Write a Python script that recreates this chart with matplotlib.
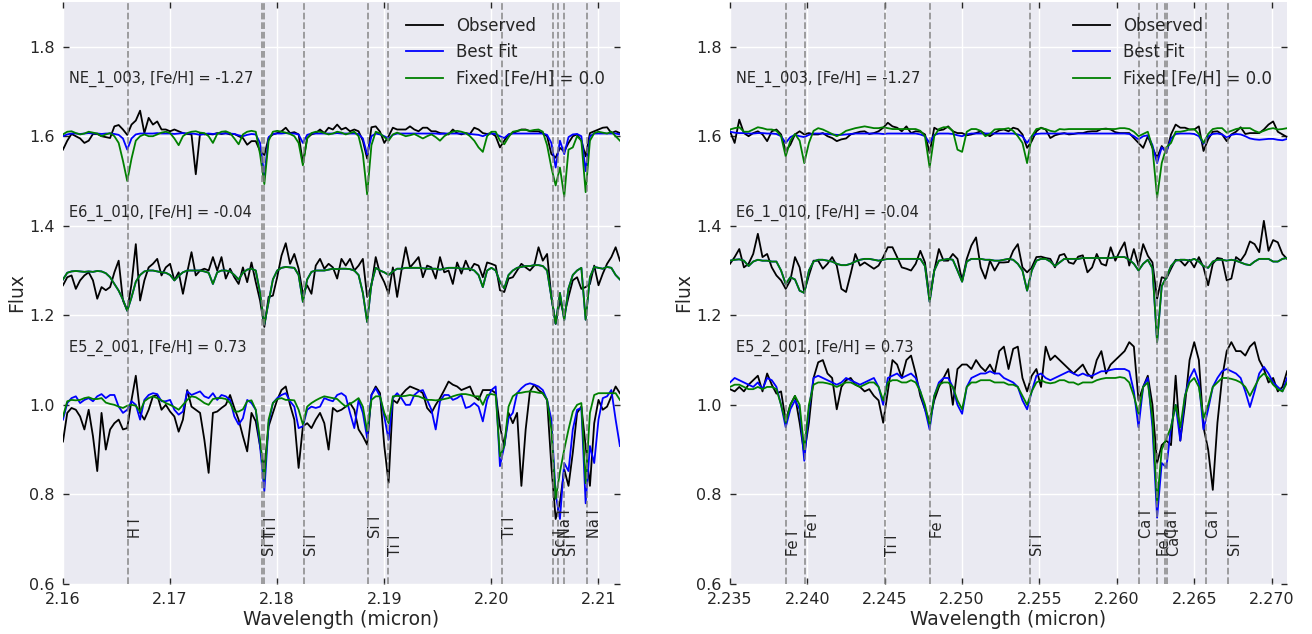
import matplotlib.pyplot as plt
import numpy as np

# Wavelength sampling of the two spectral windows (micron)
wave_left = np.linspace(2.160, 2.212, 131)
wave_right = np.linspace(2.235, 2.271, 121)

star_names = ["NE_1_003", "E6_1_010", "E5_2_001"]
star_feh = [-1.27, -0.04, 0.73]

# ---- left window, normalised flux ----
ne_obs_l = [
    0.970, 0.990, 1.005, 1.000, 0.995, 0.985, 0.990, 1.005, 1.005, 1.000,
    0.998, 0.996, 1.022, 1.025, 1.015, 1.003, 1.026, 1.035, 1.057, 1.007,
    1.041, 1.026, 1.033, 1.015, 1.015, 1.011, 1.015, 1.011, 1.007, 1.005,
    1.004, 0.915, 1.007, 1.004, 1.005, 1.004, 1.007, 1.005, 1.007, 1.004,
    1.005, 1.000, 0.996, 0.981, 0.989, 0.989, 0.967, 0.958, 0.996, 1.004,
    1.007, 1.011, 1.019, 1.007, 1.009, 1.004, 0.940, 0.996, 1.004, 1.007,
    1.015, 1.007, 1.019, 1.015, 1.026, 1.015, 1.019, 1.011, 1.015, 1.011,
    0.990, 0.950, 1.020, 1.022, 1.010, 0.985, 1.000, 1.019, 1.015, 1.015,
    1.015, 1.022, 1.015, 1.011, 1.019, 1.019, 1.011, 1.011, 1.007, 1.006,
    1.004, 1.015, 1.007, 1.004, 1.007, 1.005, 1.019, 1.015, 1.007, 1.005,
    1.007, 1.000, 0.975, 0.990, 1.004, 1.007, 1.011, 1.015, 1.015, 1.011,
    1.011, 1.011, 1.006, 1.000, 0.960, 0.952, 0.974, 0.966, 0.985, 1.000,
    1.004, 0.990, 0.955, 1.007, 1.011, 1.015, 1.019, 1.020, 1.007, 1.011, 1.007,
]
ne_best_l = [
    1.000, 1.004, 1.006, 1.006, 1.005, 1.006, 1.007, 1.006, 1.006, 1.005,
    1.006, 1.006, 1.005, 1.003, 0.995, 0.970, 0.995, 1.004, 1.006, 1.006,
    1.006, 1.006, 1.007, 1.006, 1.006, 1.006, 1.005, 1.006, 1.007, 1.006,
    1.006, 1.005, 1.003, 1.005, 1.006, 1.005, 1.006, 1.006, 1.006, 1.006,
    1.005, 1.002, 1.000, 1.003, 1.005, 1.004, 0.985, 0.912, 0.998, 1.005,
    1.006, 1.006, 1.007, 1.006, 1.006, 1.004, 0.985, 1.003, 1.006, 1.006,
    1.006, 1.006, 1.006, 1.006, 1.007, 1.006, 1.006, 1.006, 1.006, 1.005,
    0.995, 0.959, 1.000, 1.006, 1.004, 1.000, 0.995, 1.003, 1.006, 1.006,
    1.006, 1.006, 1.006, 1.006, 1.006, 1.006, 1.006, 1.006, 1.005, 1.006,
    1.006, 1.006, 1.006, 1.006, 1.006, 1.005, 1.004, 1.003, 1.000, 1.004,
    1.006, 1.005, 1.000, 0.996, 1.004, 1.006, 1.006, 1.006, 1.006, 1.006,
    1.006, 1.006, 1.006, 1.003, 0.985, 0.930, 0.990, 0.960, 0.998, 1.004,
    1.005, 1.000, 0.922, 1.000, 1.006, 1.006, 1.006, 1.006, 1.006, 1.006, 1.004,
]
ne_fix_l = [
    1.004, 1.010, 1.011, 1.007, 1.004, 1.006, 1.010, 1.008, 1.006, 1.000,
    1.004, 1.007, 1.000, 0.985, 0.945, 0.900, 0.950, 0.990, 1.000, 1.004,
    1.000, 1.000, 1.004, 1.008, 1.010, 1.007, 0.995, 0.980, 1.000, 1.007,
    1.010, 1.011, 1.008, 1.007, 1.000, 0.985, 1.005, 1.010, 1.011, 1.007,
    0.995, 0.982, 1.004, 1.010, 1.012, 1.010, 0.960, 0.893, 0.990, 1.010,
    1.012, 1.010, 1.008, 1.005, 1.000, 0.985, 0.935, 0.995, 1.007, 1.010,
    1.010, 1.007, 1.004, 1.006, 1.010, 1.008, 1.004, 1.007, 1.010, 1.000,
    0.960, 0.870, 0.980, 1.010, 1.006, 0.998, 0.990, 1.004, 1.008, 1.004,
    1.000, 1.002, 1.005, 1.000, 0.995, 1.000, 1.004, 0.998, 0.990, 1.000,
    1.006, 1.010, 1.012, 1.010, 1.007, 1.000, 0.990, 0.975, 0.965, 1.000,
    1.010, 1.010, 0.990, 0.982, 0.998, 1.010, 1.012, 1.014, 1.014, 1.012,
    1.014, 1.015, 1.010, 0.980, 0.930, 0.890, 0.930, 0.865, 0.970, 0.975,
    1.000, 0.990, 0.875, 0.990, 1.007, 1.010, 1.008, 1.006, 1.010, 1.000, 0.990,
]
e6_obs_l = [
    0.967, 0.985, 0.989, 0.959, 0.978, 0.989, 0.996, 0.978, 0.937, 0.963,
    0.956, 0.963, 0.996, 1.022, 0.933, 0.911, 0.970, 1.059, 0.933, 0.978,
    1.007, 1.015, 1.026, 0.989, 1.007, 1.015, 0.978, 0.996, 0.948, 0.996,
    1.041, 0.989, 1.000, 1.004, 1.000, 1.030, 1.000, 1.030, 0.982, 1.004,
    0.985, 0.970, 1.007, 0.974, 1.018, 0.974, 0.933, 0.874, 0.941, 0.944,
    0.985, 1.033, 1.061, 1.015, 1.037, 1.004, 0.948, 0.967, 0.948, 1.011,
    1.026, 1.004, 1.015, 1.007, 0.982, 1.026, 1.011, 1.026, 1.000, 1.011,
    1.026, 0.941, 0.967, 1.030, 0.993, 0.974, 0.948, 1.007, 0.941, 1.000,
    1.052, 1.007, 1.018, 1.030, 0.985, 1.011, 1.007, 0.982, 1.030, 0.996,
    1.000, 0.970, 1.018, 0.993, 1.022, 1.000, 1.015, 1.011, 0.985, 1.018,
    1.015, 1.011, 0.956, 0.952, 0.982, 0.985, 1.000, 1.015, 1.007, 1.000,
    1.011, 1.052, 1.022, 1.037, 0.941, 0.881, 0.933, 0.900, 0.941, 0.978,
    0.985, 0.959, 0.963, 0.970, 1.011, 0.967, 0.993, 1.015, 1.030, 1.052, 1.022,
]
# best fit and fixed-metallicity model coincide for this star
e6_model_l = [
    0.980, 0.995, 0.998, 0.999, 0.998, 0.997, 0.998, 0.997, 0.999, 0.998,
    0.994, 0.985, 0.970, 0.955, 0.935, 0.910, 0.940, 0.975, 0.990, 0.998,
    1.000, 1.000, 0.998, 0.996, 0.995, 0.990, 0.978, 0.988, 0.996, 1.000,
    1.000, 1.000, 1.000, 0.998, 0.995, 0.970, 0.996, 1.000, 1.000, 0.998,
    0.990, 0.980, 0.995, 1.002, 1.004, 1.000, 0.950, 0.880, 0.930, 0.980,
    1.000, 1.006, 1.008, 1.007, 1.006, 0.990, 0.930, 0.980, 0.997, 1.000,
    1.000, 1.000, 1.002, 1.004, 1.003, 1.004, 1.004, 1.003, 1.000, 0.990,
    0.950, 0.885, 0.970, 1.006, 1.000, 0.996, 0.990, 0.998, 1.004, 1.004,
    1.006, 1.006, 1.006, 1.006, 1.005, 1.004, 1.004, 1.004, 1.002, 1.004,
    1.006, 1.006, 1.006, 1.004, 1.004, 1.004, 1.000, 0.990, 0.963, 1.000,
    1.006, 1.000, 0.975, 0.960, 0.990, 1.000, 1.006, 1.008, 1.010, 1.010,
    1.012, 1.012, 1.010, 1.000, 0.940, 0.881, 0.950, 0.889, 0.960, 0.990,
    1.000, 1.006, 0.890, 0.985, 1.008, 1.006, 1.004, 1.008, 1.006, 0.990, 0.980,
]
e5_obs_l = [
    0.918, 0.982, 0.993, 0.989, 0.974, 0.945, 0.989, 0.930, 0.852, 0.982,
    0.900, 0.945, 0.959, 0.967, 0.945, 0.948, 1.011, 1.065, 0.982, 0.967,
    0.989, 1.019, 1.022, 0.989, 1.000, 0.985, 0.974, 0.940, 0.967, 1.033,
    0.996, 0.989, 0.982, 0.922, 0.848, 0.982, 0.985, 0.993, 1.000, 1.022,
    0.993, 0.967, 0.930, 0.896, 0.982, 0.963, 0.908, 0.856, 0.952, 0.982,
    1.011, 1.033, 1.041, 1.000, 0.967, 0.859, 0.952, 0.959, 0.948, 0.967,
    0.982, 0.959, 0.900, 0.993, 0.985, 0.989, 0.996, 1.004, 0.989, 0.945,
    0.930, 0.911, 1.022, 1.041, 1.026, 0.908, 0.826, 1.011, 1.004, 1.022,
    1.033, 1.041, 1.037, 1.033, 1.026, 0.993, 0.982, 1.000, 1.015, 1.033,
    1.052, 1.045, 1.041, 1.033, 1.037, 1.041, 1.019, 1.011, 1.033, 1.033,
    1.033, 1.026, 0.952, 0.908, 0.982, 0.959, 0.982, 0.819, 0.945, 1.030,
    1.045, 1.033, 1.026, 1.011, 0.863, 0.745, 0.782, 0.856, 0.819, 0.893,
    0.982, 0.996, 0.908, 0.819, 0.959, 1.011, 0.989, 0.996, 1.019, 1.041, 1.026,
]
e5_best_l = [
    0.967, 1.004, 1.015, 1.019, 1.004, 1.011, 1.015, 1.008, 1.019, 1.024,
    1.015, 1.022, 1.022, 0.996, 0.982, 0.989, 1.008, 1.000, 0.967, 1.011,
    1.022, 1.026, 1.024, 1.008, 1.008, 1.011, 0.989, 0.978, 0.985, 1.030,
    1.022, 1.026, 1.030, 1.019, 1.015, 1.026, 1.011, 1.022, 1.019, 1.011,
    0.974, 0.956, 0.970, 1.011, 1.004, 0.989, 0.908, 0.807, 0.959, 1.004,
    1.015, 1.022, 1.026, 1.008, 0.996, 0.948, 0.952, 0.989, 0.996, 0.993,
    0.996, 1.015, 1.011, 1.008, 1.022, 1.026, 1.019, 0.982, 0.948, 1.011,
    0.982, 0.926, 1.022, 1.037, 1.019, 0.974, 0.922, 1.015, 1.026, 1.015,
    1.000, 1.000, 1.022, 1.030, 1.033, 1.011, 0.989, 0.945, 1.008, 1.022,
    1.022, 1.011, 1.015, 1.022, 0.993, 0.996, 1.004, 0.996, 0.963, 1.011,
    1.033, 1.041, 0.863, 0.908, 0.970, 0.982, 1.026, 1.037, 1.045, 1.048,
    1.045, 1.041, 1.033, 1.011, 0.967, 0.800, 0.745, 0.870, 0.852, 0.945,
    0.989, 0.993, 0.780, 0.908, 0.870, 0.967, 1.015, 1.019, 1.033, 0.967, 0.908,
]
e5_fix_l = [
    0.974, 1.008, 1.011, 1.010, 1.011, 1.015, 1.017, 1.013, 1.013, 1.015,
    1.005, 1.002, 1.000, 0.996, 0.993, 0.998, 1.000, 0.998, 0.985, 1.008,
    1.015, 1.019, 1.015, 1.010, 1.004, 1.000, 0.995, 0.989, 1.000, 1.011,
    1.019, 1.017, 1.011, 1.004, 1.000, 1.013, 1.015, 1.015, 1.013, 1.004,
    0.985, 0.985, 0.990, 1.008, 1.010, 0.989, 0.922, 0.833, 0.967, 1.004,
    1.013, 1.015, 1.011, 1.011, 1.010, 0.989, 0.956, 0.996, 1.004, 1.010,
    1.015, 1.019, 1.017, 1.015, 1.013, 1.004, 0.996, 1.002, 1.008, 1.015,
    0.996, 0.941, 1.011, 1.019, 1.019, 0.982, 0.959, 1.019, 1.020, 1.019,
    1.020, 1.022, 1.020, 1.019, 1.015, 1.011, 1.011, 1.010, 1.011, 1.013,
    1.015, 1.019, 1.022, 1.024, 1.024, 1.022, 1.019, 1.019, 1.000, 1.022,
    1.024, 1.022, 0.885, 0.908, 0.996, 1.019, 1.026, 1.027, 1.029, 1.030,
    1.029, 1.027, 1.026, 1.011, 0.945, 0.790, 0.850, 0.900, 0.945, 0.985,
    1.000, 1.004, 0.825, 0.982, 1.022, 1.026, 1.026, 1.026, 1.026, 1.026, 1.011,
]

# ---- right window, normalised flux ----
ne_obs_r = [
    1.011, 0.985, 1.037, 1.007, 1.000, 1.007, 1.011, 1.004, 0.989, 1.011,
    1.015, 1.004, 0.967, 0.981, 1.004, 1.011, 1.004, 1.007, 1.004, 1.004,
    1.007, 1.000, 0.996, 0.989, 0.993, 0.995, 1.004, 1.007, 1.010, 1.011,
    1.005, 1.007, 1.011, 1.019, 1.030, 1.022, 1.019, 1.011, 1.022, 1.007,
    1.011, 1.010, 1.004, 0.963, 1.019, 1.013, 1.015, 1.022, 1.011, 1.007,
    1.007, 1.002, 1.004, 1.007, 1.011, 1.005, 1.000, 1.007, 1.013, 1.015,
    1.011, 1.019, 1.016, 1.004, 0.974, 0.989, 1.011, 1.019, 1.015, 0.996,
    1.002, 1.005, 1.007, 1.004, 1.005, 1.007, 1.007, 1.010, 1.011, 1.011,
    1.016, 1.017, 1.015, 1.009, 1.007, 1.007, 1.007, 0.996, 0.985, 0.974,
    1.000, 0.974, 0.952, 0.978, 0.963, 1.004, 1.026, 1.019, 1.019, 1.015,
    1.015, 1.022, 0.967, 0.993, 1.010, 1.011, 1.004, 0.989, 1.004, 1.010,
    1.020, 1.005, 1.007, 1.007, 1.007, 1.015, 1.026, 1.033, 1.010, 1.004, 0.998,
]
ne_best_r = [
    1.010, 1.008, 1.007, 1.007, 1.006, 1.006, 1.007, 1.007, 1.006, 1.006,
    1.005, 1.000, 0.985, 0.998, 1.003, 1.000, 0.998, 1.003, 1.006, 1.006,
    1.006, 1.005, 1.004, 1.003, 1.003, 1.004, 1.005, 1.006, 1.006, 1.006,
    1.006, 1.006, 1.006, 1.005, 1.006, 1.006, 1.006, 1.006, 1.006, 1.006,
    1.006, 1.004, 1.000, 0.985, 1.003, 1.006, 1.006, 1.006, 1.005, 1.002,
    1.000, 1.004, 1.006, 1.006, 1.006, 1.006, 1.006, 1.006, 1.006, 1.006,
    1.006, 1.006, 1.004, 1.000, 0.985, 1.000, 1.005, 1.006, 1.006, 1.006,
    1.006, 1.006, 1.006, 1.006, 1.006, 1.006, 1.006, 1.006, 1.006, 1.006,
    1.006, 1.006, 1.006, 1.006, 1.006, 1.006, 1.005, 1.000, 0.993, 1.000,
    1.002, 0.980, 0.940, 0.975, 0.965, 0.995, 1.005, 1.006, 1.006, 1.006,
    1.005, 1.000, 0.983, 1.000, 1.005, 1.006, 1.004, 0.997, 1.003, 1.005,
    1.004, 1.000, 0.995, 0.993, 0.992, 0.993, 0.994, 0.994, 0.992, 0.991, 0.994,
]
ne_fix_r = [
    1.015, 1.018, 1.020, 1.010, 1.010, 1.015, 1.020, 1.018, 1.015, 1.015,
    1.012, 1.000, 0.955, 0.990, 1.005, 0.990, 0.940, 0.985, 1.012, 1.018,
    1.015, 1.010, 1.005, 1.000, 1.005, 1.012, 1.015, 1.018, 1.020, 1.022,
    1.020, 1.018, 1.018, 1.020, 1.018, 1.016, 1.016, 1.016, 1.016, 1.016,
    1.016, 1.012, 1.000, 0.930, 1.000, 1.016, 1.020, 1.020, 1.012, 0.970,
    0.965, 1.010, 1.016, 1.016, 1.012, 1.000, 1.005, 1.015, 1.016, 1.016,
    1.018, 1.012, 1.000, 0.985, 0.940, 1.000, 1.016, 1.018, 1.016, 1.012,
    1.010, 1.016, 1.015, 1.016, 1.016, 1.016, 1.016, 1.016, 1.016, 1.016,
    1.016, 1.016, 1.016, 1.016, 1.018, 1.018, 1.016, 1.010, 1.000, 1.005,
    1.010, 0.975, 0.863, 0.940, 0.975, 0.985, 1.010, 1.010, 1.012, 1.015,
    1.016, 1.005, 0.985, 1.005, 1.016, 1.018, 1.018, 1.008, 1.012, 1.016,
    1.018, 1.018, 1.018, 1.012, 1.008, 1.012, 1.016, 1.018, 1.015, 1.016, 1.018,
]
e6_obs_r = [
    1.015, 1.030, 1.048, 1.007, 1.015, 1.037, 1.082, 1.030, 1.037, 1.007,
    0.989, 0.978, 0.959, 0.978, 1.030, 1.007, 0.952, 0.989, 1.022, 1.022,
    1.004, 1.015, 1.030, 1.011, 0.959, 0.952, 0.993, 1.037, 1.011, 1.018,
    1.011, 1.004, 1.011, 1.030, 1.052, 1.052, 1.030, 1.007, 1.004, 1.000,
    1.015, 1.044, 1.018, 0.937, 1.000, 1.048, 1.022, 1.022, 1.037, 1.026,
    0.978, 1.026, 1.056, 1.074, 1.007, 0.982, 1.022, 1.000, 1.018, 1.018,
    1.019, 1.044, 1.059, 1.007, 0.996, 1.007, 1.030, 1.031, 1.028, 1.026,
    1.007, 1.034, 1.037, 1.018, 1.015, 1.031, 1.034, 0.996, 1.007, 1.037,
    1.015, 1.011, 1.052, 1.022, 1.044, 1.063, 1.011, 1.048, 1.011, 1.059,
    1.033, 1.018, 0.937, 0.985, 0.982, 1.004, 1.024, 1.022, 1.011, 1.024,
    1.007, 1.030, 1.007, 0.967, 1.015, 1.028, 1.026, 0.978, 0.982, 1.030,
    1.022, 1.037, 1.065, 1.059, 1.041, 1.111, 1.044, 1.068, 1.063, 1.037, 1.026,
]
e6_model_r = [
    1.022, 1.024, 1.025, 1.022, 1.010, 1.020, 1.024, 1.022, 1.022, 1.020,
    1.020, 1.000, 0.970, 0.985, 0.980, 0.955, 0.950, 1.000, 1.020, 1.024,
    1.024, 1.022, 1.020, 1.015, 1.012, 1.012, 1.015, 1.020, 1.024, 1.026,
    1.026, 1.024, 1.022, 1.024, 1.026, 1.026, 1.026, 1.026, 1.026, 1.026,
    1.026, 1.026, 1.010, 0.930, 1.000, 1.022, 1.024, 1.026, 1.024, 1.000,
    0.975, 1.020, 1.026, 1.026, 1.026, 1.024, 1.024, 1.022, 1.022, 1.024,
    1.026, 1.024, 1.015, 1.000, 0.955, 1.000, 1.022, 1.026, 1.026, 1.020,
    1.010, 1.018, 1.026, 1.026, 1.026, 1.026, 1.028, 1.028, 1.028, 1.028,
    1.028, 1.028, 1.028, 1.030, 1.030, 1.030, 1.024, 1.015, 1.000, 1.015,
    1.024, 1.005, 0.840, 0.965, 0.985, 1.010, 1.022, 1.024, 1.024, 1.022,
    1.026, 1.020, 1.010, 1.006, 1.020, 1.024, 1.024, 1.022, 1.024, 1.022,
    1.018, 1.014, 1.012, 1.020, 1.026, 1.026, 1.026, 1.020, 1.020, 1.026, 1.028,
]
e5_obs_r = [
    1.035, 1.030, 1.040, 1.030, 1.045, 1.055, 1.065, 1.030, 1.070, 1.045,
    1.025, 1.030, 0.965, 1.000, 1.020, 0.960, 0.890, 0.960, 1.060, 1.095,
    1.100, 1.070, 1.060, 0.990, 1.040, 1.055, 1.060, 1.045, 1.040, 1.030,
    1.035, 1.020, 1.010, 0.960, 1.030, 1.100, 1.090, 1.060, 1.100, 1.110,
    1.070, 1.020, 0.990, 0.963, 1.010, 1.040, 1.060, 1.080, 1.000, 1.080,
    1.090, 1.090, 1.080, 1.100, 1.085, 1.075, 1.090, 1.070, 1.120, 1.130,
    1.080, 1.125, 1.130, 1.060, 1.030, 1.065, 1.080, 1.040, 1.130, 1.100,
    1.110, 1.100, 1.090, 1.080, 1.070, 1.080, 1.090, 1.070, 1.060, 1.100,
    1.120, 1.070, 1.090, 1.100, 1.110, 1.120, 1.140, 1.130, 1.010, 1.040,
    1.065, 1.000, 0.870, 0.910, 0.920, 0.910, 1.065, 0.920, 1.000, 1.100,
    1.140, 1.100, 0.950, 0.900, 0.810, 0.960, 1.060, 1.120, 1.140, 1.120,
    1.120, 1.110, 1.130, 1.140, 1.100, 1.080, 1.050, 1.060, 1.030, 1.040, 1.075,
]
e5_best_r = [
    1.050, 1.060, 1.055, 1.050, 1.045, 1.040, 1.050, 1.035, 1.060, 1.055,
    1.040, 1.000, 0.950, 0.990, 1.010, 0.990, 0.875, 0.990, 1.060, 1.065,
    1.060, 1.055, 1.050, 1.045, 1.050, 1.060, 1.055, 1.050, 1.045, 1.050,
    1.055, 1.060, 1.040, 1.000, 1.060, 1.065, 1.070, 1.060, 1.065, 1.070,
    1.060, 1.030, 0.990, 0.945, 1.020, 1.050, 1.060, 1.060, 1.040, 1.000,
    0.980, 1.040, 1.060, 1.065, 1.070, 1.070, 1.075, 1.070, 1.070, 1.060,
    1.055, 1.050, 1.040, 1.010, 0.990, 1.030, 1.065, 1.070, 1.060, 1.055,
    1.060, 1.065, 1.070, 1.075, 1.070, 1.065, 1.070, 1.065, 1.065, 1.070,
    1.075, 1.075, 1.078, 1.080, 1.080, 1.080, 1.075, 1.030, 0.950, 1.040,
    1.060, 0.950, 0.748, 0.870, 0.860, 0.950, 1.000, 0.920, 1.020, 1.060,
    1.080, 1.050, 0.945, 0.990, 1.040, 1.060, 1.075, 1.080, 1.075, 1.070,
    1.060, 1.030, 0.995, 1.030, 1.070, 1.085, 1.070, 1.050, 1.040, 1.030, 1.060,
]
e5_fix_r = [
    1.040, 1.045, 1.045, 1.040, 1.035, 1.035, 1.040, 1.035, 1.040, 1.040,
    1.035, 1.000, 0.960, 1.000, 1.020, 1.000, 0.900, 1.000, 1.045, 1.050,
    1.050, 1.048, 1.045, 1.040, 1.045, 1.050, 1.050, 1.045, 1.040, 1.045,
    1.050, 1.050, 1.040, 1.010, 1.050, 1.055, 1.055, 1.050, 1.050, 1.055,
    1.050, 1.030, 1.000, 0.955, 1.020, 1.045, 1.050, 1.050, 1.040, 1.010,
    0.990, 1.040, 1.050, 1.050, 1.055, 1.055, 1.055, 1.050, 1.050, 1.050,
    1.045, 1.045, 1.040, 1.020, 1.000, 1.030, 1.050, 1.055, 1.050, 1.048,
    1.050, 1.055, 1.055, 1.050, 1.050, 1.045, 1.050, 1.050, 1.050, 1.055,
    1.058, 1.060, 1.060, 1.060, 1.062, 1.060, 1.050, 1.020, 0.980, 1.040,
    1.050, 0.970, 0.780, 0.900, 0.925, 0.950, 1.000, 0.950, 1.020, 1.050,
    1.060, 1.040, 0.970, 1.000, 1.040, 1.050, 1.060, 1.060, 1.058, 1.055,
    1.050, 1.040, 1.020, 1.040, 1.060, 1.070, 1.060, 1.045, 1.035, 1.030, 1.050,
]

# Identified absorption features (micron)
line_waves = [2.16607, 2.17857, 2.17881, 2.18255, 2.18850, 2.19031, 2.20103,
              2.20577, 2.20620, 2.20682, 2.20894,
              2.23862, 2.23987, 2.24500, 2.24790, 2.25437, 2.26141, 2.26260,
              2.26310, 2.26326, 2.26576, 2.26721]
line_names = ["H I", "Si I", "Ti I", "Si I", "Si I", "Ti I", "Ti I",
              "Sc I", "Na I", "Si I", "Na I",
              "Fe I", "Fe I", "Ti I", "Fe I", "Si I", "Ca I", "Fe I",
              "Ca I", "Ca I", "Ca I", "Si I"]

panels = [
    (wave_left, (2.160, 2.212), np.arange(2.16, 2.2101, 0.01), "{:.2f}",
     [(ne_obs_l, ne_best_l, ne_fix_l),
      (e6_obs_l, e6_model_l, e6_model_l),
      (e5_obs_l, e5_best_l, e5_fix_l)]),
    (wave_right, (2.235, 2.271), np.arange(2.235, 2.2701, 0.005), "{:.3f}",
     [(ne_obs_r, ne_best_r, ne_fix_r),
      (e6_obs_r, e6_model_r, e6_model_r),
      (e5_obs_r, e5_best_r, e5_fix_r)]),
]

text_color = "#262626"
plt.rcParams["font.family"] = "DejaVu Sans"
plt.rcParams["axes.facecolor"] = "#EAEAF2"

fig = plt.figure(figsize=(13.12, 6.34), dpi=100)
ax_l = fig.add_axes([0.048, 0.079, 0.4245, 0.918])
ax_r = fig.add_axes([0.5564, 0.079, 0.4246, 0.918])

offsets = [0.6, 0.3, 0.0]
label_y = [0.703, 0.663]

for ax, (wave, xlim, xticks, fmt, stars) in zip([ax_l, ax_r], panels):
    ax.set_axisbelow(True)
    ax.grid(True, color="white", linewidth=1.0)
    for sp in ax.spines.values():
        sp.set_visible(False)

    for k, (obs, best, fix) in enumerate(stars):
        off = offsets[k]
        first = k == 0
        ax.plot(wave, np.array(obs) + off, color="k", lw=1.3,
                label="Observed" if first else None)
        ax.plot(wave, np.array(best) + off, color="b", lw=1.3,
                label="Best Fit" if first else None)
        ax.plot(wave, np.array(fix) + off, color="g", lw=1.3,
                label="Fixed [Fe/H] = 0.0" if first else None)
        ax.text(xlim[0] + 0.01 * (xlim[1] - xlim[0]), off + 1.11,
                f"{star_names[k]}, [Fe/H] = {star_feh[k]:.2f}",
                fontsize=10.5, color=text_color, va="bottom", ha="left")

    for j, (lw_, name) in enumerate(zip(line_waves, line_names)):
        if xlim[0] <= lw_ <= xlim[1]:
            ax.axvline(lw_, color="gray", ls="--", lw=1.3, alpha=0.8)
            ax.text(lw_, label_y[j % 2], name, rotation=90, fontsize=10.5,
                    color=text_color, ha="left", va="bottom")

    ax.set_xlim(*xlim)
    ax.set_ylim(0.6, 1.9)
    ax.set_xticks(xticks)
    ax.set_xticklabels([fmt.format(t) for t in xticks])
    ax.set_yticks([0.6, 0.8, 1.0, 1.2, 1.4, 1.6, 1.8])
    ax.tick_params(direction="in", length=4, width=1, colors=text_color,
                   labelsize=11.5, top=True, right=True, pad=6)
    ax.set_xlabel("Wavelength (micron)", fontsize=13.5, color=text_color,
                  labelpad=2)
    ax.set_ylabel("Flux", fontsize=13.5, color=text_color, labelpad=2)
    ax.legend(loc="upper right", frameon=False, fontsize=12,
              handlelength=2.2, labelcolor=text_color)

fig.savefig("out.png", dpi=100)
